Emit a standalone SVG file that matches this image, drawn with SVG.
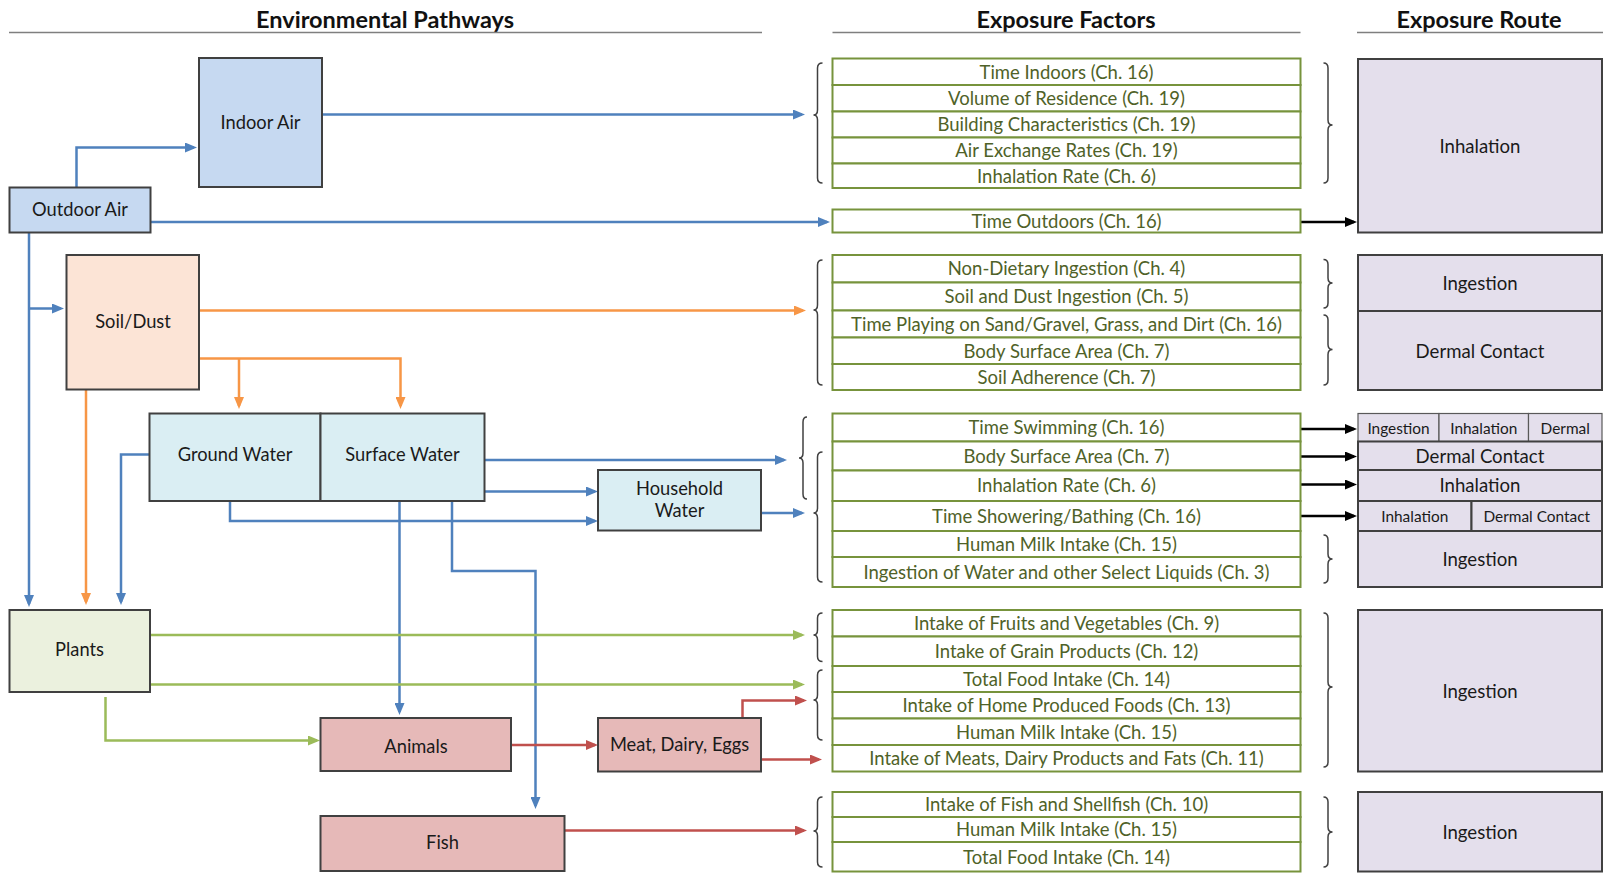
<svg xmlns="http://www.w3.org/2000/svg" width="1606" height="875" viewBox="0 0 1606 875">
<style>
text{font-family:Lato,"Liberation Sans",sans-serif;dominant-baseline:central;text-anchor:middle}
.hdr{font-size:23.5px;font-weight:bold;fill:#111}
.hline{stroke:#7f7f7f;stroke-width:1.5}
.node{stroke:#404040;stroke-width:2}
.nt{font-size:18.3px;fill:#1a1a1a}
.air{fill:#C6D9F1}.soil{fill:#FCE4D6}.water{fill:#DAEEF3}.plant{fill:#EBF1DE}.anim{fill:#E6B9B8}
.row{fill:#fff;stroke:#77933C;stroke-width:2}
.rt{font-size:18.5px;fill:#4F6228}
.route{fill:#E4DFEC;stroke:#404040;stroke-width:2}
.cell{fill:#E4DFEC;stroke:#595959;stroke-width:1.2}
.ro{font-size:18.6px;fill:#1a1a1a}
.rs{font-size:15.4px;fill:#1a1a1a}
.c{fill:none;stroke-width:2.5}
.b{stroke:#4F81BD;marker-end:url(#ab)}
.o{stroke:#F79646;marker-end:url(#ao)}
.g{stroke:#9BBB59;marker-end:url(#ag)}
.r{stroke:#C0504D;marker-end:url(#ar)}
.k{stroke:#000;marker-end:url(#ak)}
.br{fill:none;stroke:#404040;stroke-width:1.5}
</style>
<defs>
<marker id="ab" markerUnits="userSpaceOnUse" markerWidth="12" markerHeight="10" viewBox="0 0 12 10" refX="9" refY="5" orient="auto"><path d="M0,0 L12,5 L0,10 z" fill="#4F81BD"/></marker>
<marker id="ao" markerUnits="userSpaceOnUse" markerWidth="12" markerHeight="10" viewBox="0 0 12 10" refX="9" refY="5" orient="auto"><path d="M0,0 L12,5 L0,10 z" fill="#F79646"/></marker>
<marker id="ag" markerUnits="userSpaceOnUse" markerWidth="12" markerHeight="10" viewBox="0 0 12 10" refX="9" refY="5" orient="auto"><path d="M0,0 L12,5 L0,10 z" fill="#9BBB59"/></marker>
<marker id="ar" markerUnits="userSpaceOnUse" markerWidth="12" markerHeight="10" viewBox="0 0 12 10" refX="9" refY="5" orient="auto"><path d="M0,0 L12,5 L0,10 z" fill="#C0504D"/></marker>
<marker id="ak" markerUnits="userSpaceOnUse" markerWidth="12" markerHeight="10" viewBox="0 0 12 10" refX="9" refY="5" orient="auto"><path d="M0,0 L12,5 L0,10 z" fill="#000"/></marker>
</defs>
<rect width="1606" height="875" fill="#fff"/>

<g id="headers">
<text class="hdr" x="385" y="18.5">Environmental Pathways</text>
<line class="hline" x1="9" y1="32.5" x2="762" y2="32.5"/>
<text class="hdr" x="1066" y="18.5">Exposure Factors</text>
<line class="hline" x1="832.5" y1="32.5" x2="1300.5" y2="32.5"/>
<text class="hdr" x="1479" y="18.5">Exposure Route</text>
<line class="hline" x1="1357" y1="32.5" x2="1603" y2="32.5"/>
</g>

<g id="connectors">
<path class="c b" d="M76.5 187 V147.5 H194"/>
<path class="c b" d="M322 114.5 H802"/>
<path class="c b" d="M150.5 222 H827"/>
<path class="c b" d="M29 232.5 V604"/>
<path class="c b" d="M29 308.5 H61"/>
<path class="c b" d="M149.5 454.5 H121 V602"/>
<path class="c b" d="M484.5 460 H784"/>
<path class="c b" d="M484.5 491.5 H595"/>
<path class="c b" d="M230 501 V521 H595"/>
<path class="c b" d="M761 513 H802"/>
<path class="c b" d="M399.5 501 V712"/>
<path class="c b" d="M452 501 V571 H535.5 V806"/>
<path class="c o" d="M199 310.5 H803"/>
<path class="c o" d="M199 358.5 H400.5 V406"/>
<path class="c o" d="M239 358.5 V406"/>
<path class="c o" d="M86 389 V602"/>
<path class="c g" d="M150 635 H802"/>
<path class="c g" d="M150 684.5 H802"/>
<path class="c g" d="M105.5 697 V740.5 H317"/>
<path class="c r" d="M511 745 H595"/>
<path class="c r" d="M742.5 718 V700.5 H804"/>
<path class="c r" d="M761 759.5 H819"/>
<path class="c r" d="M564 830.5 H804"/>
<path class="c k" d="M1300.5 222 H1354"/>
<path class="c k" d="M1300.5 429 H1354"/>
<path class="c k" d="M1300.5 456.5 H1354"/>
<path class="c k" d="M1300.5 484.5 H1354"/>
<path class="c k" d="M1300.5 516 H1354"/>
</g>

<g id="braces">
<path class="br" d="M822.5 63 Q817.5 63 817.5 68 V110 Q817.5 115 813.5 115 Q817.5 115 817.5 120 V178 Q817.5 183 822.5 183"/>
<path class="br" d="M822.5 260 Q817.5 260 817.5 265 V305 Q817.5 310 813.5 310 Q817.5 310 817.5 315 V380 Q817.5 385 822.5 385"/>
<path class="br" d="M807 417 Q803 417 803 422 V453 Q803 458 799 458 Q803 458 803 463 V494 Q803 499 807 499"/>
<path class="br" d="M822.5 452 Q817.5 452 817.5 457 V508 Q817.5 513 813.5 513 Q817.5 513 817.5 518 V577 Q817.5 582 822.5 582"/>
<path class="br" d="M822.5 613 Q817.5 613 817.5 618 V630 Q817.5 635 813.5 635 Q817.5 635 817.5 640 V656.5 Q817.5 661.5 822.5 661.5"/>
<path class="br" d="M822.5 670 Q817.5 670 817.5 675 V695 Q817.5 700 813.5 700 Q817.5 700 817.5 705 V735 Q817.5 740 822.5 740"/>
<path class="br" d="M822.5 797 Q817.5 797 817.5 802 V826 Q817.5 831 813.5 831 Q817.5 831 817.5 836 V862 Q817.5 867 822.5 867"/>
<path class="br" d="M1323.5 63 Q1328 63 1328 68 V120 Q1328 125 1332.5 125 Q1328 125 1328 130 V178 Q1328 183 1323.5 183"/>
<path class="br" d="M1323.5 259.5 Q1328 259.5 1328 264.5 V278 Q1328 283 1332.5 283 Q1328 283 1328 288 V303 Q1328 308 1323.5 308"/>
<path class="br" d="M1323.5 315 Q1328 315 1328 320 V344.5 Q1328 349.5 1332.5 349.5 Q1328 349.5 1328 354.5 V380 Q1328 385 1323.5 385"/>
<path class="br" d="M1323.5 535 Q1328 535 1328 540 V554 Q1328 559 1332.5 559 Q1328 559 1328 564 V578 Q1328 583 1323.5 583"/>
<path class="br" d="M1323.5 613 Q1328 613 1328 618 V682 Q1328 687 1332.5 687 Q1328 687 1328 692 V762 Q1328 767 1323.5 767"/>
<path class="br" d="M1323.5 797 Q1328 797 1328 802 V827 Q1328 832 1332.5 832 Q1328 832 1328 837 V862 Q1328 867 1323.5 867"/>
</g>

<g id="indoor-air"><rect class="node air" x="199" y="58" width="123" height="129"/><text class="nt" x="260.5" y="121.5">Indoor Air</text></g>
<g id="outdoor-air"><rect class="node air" x="9.5" y="187.5" width="141" height="45"/><text class="nt" x="80" y="208.5">Outdoor Air</text></g>
<g id="soil-dust"><rect class="node soil" x="66.5" y="255" width="132.5" height="134.5"/><text class="nt" x="133" y="320.5">Soil/Dust</text></g>
<g id="ground-water"><rect class="node water" x="149.5" y="413.5" width="171" height="87.5"/><text class="nt" x="235" y="454">Ground Water</text></g>
<g id="surface-water"><rect class="node water" x="320.5" y="413.5" width="164" height="87.5"/><text class="nt" x="402.5" y="454">Surface Water</text></g>
<g id="household-water"><rect class="node water" x="598" y="470" width="163" height="60.5"/><text class="nt" x="679.5" y="488">Household</text><text class="nt" x="679.5" y="510">Water</text></g>
<g id="plants"><rect class="node plant" x="9.5" y="610" width="140.5" height="82"/><text class="nt" x="79.5" y="648.5">Plants</text></g>
<g id="animals"><rect class="node anim" x="320.5" y="718" width="190.5" height="53"/><text class="nt" x="416" y="745.5">Animals</text></g>
<g id="meat-dairy-eggs"><rect class="node anim" x="598" y="718" width="163" height="53.5"/><text class="nt" x="679.5" y="744">Meat, Dairy, Eggs</text></g>
<g id="fish"><rect class="node anim" x="320.5" y="816" width="244" height="55"/><text class="nt" x="442.5" y="842">Fish</text></g>

<g id="factors-air">
<g id="f-time-indoors"><rect class="row" x="832.5" y="58.5" width="468" height="26.5"/><text class="rt" x="1066.5" y="71.5">Time Indoors (Ch. 16)</text></g>
<g id="f-volume"><rect class="row" x="832.5" y="85" width="468" height="26.5"/><text class="rt" x="1066.5" y="98">Volume of Residence (Ch. 19)</text></g>
<g id="f-building"><rect class="row" x="832.5" y="111.5" width="468" height="26"/><text class="rt" x="1066.5" y="124.2">Building Characteristics (Ch. 19)</text></g>
<g id="f-air-exchange"><rect class="row" x="832.5" y="137.5" width="468" height="26"/><text class="rt" x="1066.5" y="150.2">Air Exchange Rates (Ch. 19)</text></g>
<g id="f-inhalation-1"><rect class="row" x="832.5" y="163.5" width="468" height="24.5"/><text class="rt" x="1066.5" y="175.5">Inhalation Rate (Ch. 6)</text></g>
<g id="f-time-outdoors"><rect class="row" x="832.5" y="209.5" width="468" height="23"/><text class="rt" x="1066.5" y="220.7">Time Outdoors (Ch. 16)</text></g>
</g>
<g id="factors-soil">
<g id="f-non-dietary"><rect class="row" x="832.5" y="255" width="468" height="27.5"/><text class="rt" x="1066.5" y="268.4">Non-Dietary Ingestion (Ch. 4)</text></g>
<g id="f-soil-dust"><rect class="row" x="832.5" y="282.5" width="468" height="28"/><text class="rt" x="1066.5" y="296.2">Soil and Dust Ingestion (Ch. 5)</text></g>
<g id="f-time-playing"><rect class="row" x="832.5" y="310.5" width="468" height="27"/><text class="rt" x="1066.5" y="323.7">Time Playing on Sand/Gravel, Grass, and Dirt (Ch. 16)</text></g>
<g id="f-body-surface-1"><rect class="row" x="832.5" y="337.5" width="468" height="26.5"/><text class="rt" x="1066.5" y="350.5">Body Surface Area (Ch. 7)</text></g>
<g id="f-soil-adherence"><rect class="row" x="832.5" y="364" width="468" height="26"/><text class="rt" x="1066.5" y="376.7">Soil Adherence (Ch. 7)</text></g>
</g>
<g id="factors-water">
<g id="f-swimming"><rect class="row" x="832.5" y="413.5" width="468" height="28"/><text class="rt" x="1066.5" y="427.2">Time Swimming (Ch. 16)</text></g>
<g id="f-body-surface-2"><rect class="row" x="832.5" y="441.5" width="468" height="29"/><text class="rt" x="1066.5" y="455.7">Body Surface Area (Ch. 7)</text></g>
<g id="f-inhalation-2"><rect class="row" x="832.5" y="470.5" width="468" height="30.5"/><text class="rt" x="1066.5" y="485.4">Inhalation Rate (Ch. 6)</text></g>
<g id="f-showering"><rect class="row" x="832.5" y="501" width="468" height="30"/><text class="rt" x="1066.5" y="515.7">Time Showering/Bathing (Ch. 16)</text></g>
<g id="f-milk-1"><rect class="row" x="832.5" y="531" width="468" height="26"/><text class="rt" x="1066.5" y="543.7">Human Milk Intake (Ch. 15)</text></g>
<g id="f-water-liquids"><rect class="row" x="832.5" y="557" width="468" height="30"/><text class="rt" x="1066.5" y="571.7">Ingestion of Water and other Select Liquids (Ch. 3)</text></g>
</g>
<g id="factors-food">
<g id="f-fruits"><rect class="row" x="832.5" y="610" width="468" height="26.5"/><text class="rt" x="1066.5" y="623">Intake of Fruits and Vegetables (Ch. 9)</text></g>
<g id="f-grain"><rect class="row" x="832.5" y="636.5" width="468" height="29.5"/><text class="rt" x="1066.5" y="651">Intake of Grain Products (Ch. 12)</text></g>
<g id="f-total-food-1"><rect class="row" x="832.5" y="666" width="468" height="26"/><text class="rt" x="1066.5" y="678.7">Total Food Intake (Ch. 14)</text></g>
<g id="f-home-produced"><rect class="row" x="832.5" y="692" width="468" height="26.5"/><text class="rt" x="1066.5" y="705">Intake of Home Produced Foods (Ch. 13)</text></g>
<g id="f-milk-2"><rect class="row" x="832.5" y="718.5" width="468" height="26.5"/><text class="rt" x="1066.5" y="731.5">Human Milk Intake (Ch. 15)</text></g>
<g id="f-meats"><rect class="row" x="832.5" y="745" width="468" height="26.5"/><text class="rt" x="1066.5" y="758">Intake of Meats, Dairy Products and Fats (Ch. 11)</text></g>
</g>
<g id="factors-fish">
<g id="f-fish"><rect class="row" x="832.5" y="792" width="468" height="25"/><text class="rt" x="1066.5" y="804.2">Intake of Fish and Shellfish (Ch. 10)</text></g>
<g id="f-milk-3"><rect class="row" x="832.5" y="817" width="468" height="25"/><text class="rt" x="1066.5" y="829.2">Human Milk Intake (Ch. 15)</text></g>
<g id="f-total-food-2"><rect class="row" x="832.5" y="842" width="468" height="29.5"/><text class="rt" x="1066.5" y="856.5">Total Food Intake (Ch. 14)</text></g>
</g>

<g id="route-inhalation-air"><rect class="route" x="1358" y="59" width="244" height="173.5"/><text class="ro" x="1480" y="146">Inhalation</text></g>
<g id="route-ingestion-soil"><rect class="route" x="1358" y="255" width="244" height="56"/><text class="ro" x="1480" y="283">Ingestion</text></g>
<g id="route-dermal-soil"><rect class="route" x="1358" y="311" width="244" height="79"/><text class="ro" x="1480" y="350.5">Dermal Contact</text></g>
<g id="route-swimming">
<rect class="cell" x="1358" y="413.5" width="81" height="28"/><text class="rs" x="1398.5" y="427.5">Ingestion</text>
<rect class="cell" x="1439" y="413.5" width="89.5" height="28"/><text class="rs" x="1483.75" y="427.5">Inhalation</text>
<rect class="cell" x="1528.5" y="413.5" width="73.5" height="28"/><text class="rs" x="1565.25" y="427.5">Dermal</text>
</g>
<g id="route-dermal-water"><rect class="route" x="1358" y="441.5" width="244" height="28.5"/><text class="ro" x="1480" y="455.5">Dermal Contact</text></g>
<g id="route-inhalation-water"><rect class="route" x="1358" y="470" width="244" height="31"/><text class="ro" x="1480" y="485.3">Inhalation</text></g>
<g id="route-showering">
<rect class="route" x="1358" y="501" width="113.5" height="30"/><text class="rs" x="1414.75" y="516">Inhalation</text>
<rect class="route" x="1471.5" y="501" width="130.5" height="30"/><text class="rs" x="1536.75" y="516">Dermal Contact</text>
</g>
<g id="route-ingestion-water"><rect class="route" x="1358" y="531" width="244" height="56"/><text class="ro" x="1480" y="559">Ingestion</text></g>
<g id="route-ingestion-food"><rect class="route" x="1358" y="610" width="244" height="161.5"/><text class="ro" x="1480" y="691">Ingestion</text></g>
<g id="route-ingestion-fish"><rect class="route" x="1358" y="792" width="244" height="79.5"/><text class="ro" x="1480" y="832">Ingestion</text></g>
</svg>
